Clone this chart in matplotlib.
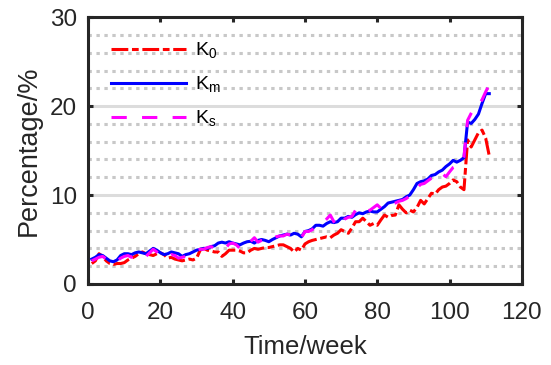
#! /usr/bin/env python3

# coding: utf-8

# # Percentage over time: K0, Km, Ks

import matplotlib.pyplot as plt
import numpy as np
from matplotlib.ticker import MultipleLocator

plt.rcParams['font.family'] = ['Liberation Sans', 'DejaVu Sans']
plt.rcParams['mathtext.fontset'] = 'custom'
plt.rcParams['mathtext.rm'] = 'Liberation Sans'
plt.rcParams['mathtext.it'] = 'Liberation Sans'

weeks = np.arange(1, 112)

k0 = [2.3, 2.6, 3.4, 3.1, 2.6, 2.3, 2.2, 2.3, 2.3, 2.4,
      2.7, 2.9, 3.1, 3.4, 3.6, 3.4, 3.3, 3.2, 3.4, 3.5,
      3.3, 2.9, 3.0, 2.8, 2.7, 2.6, 2.7, 2.8, 2.7, 2.9,
      3.8, 4.0, 3.8, 3.7, 3.6, 3.6, 3.1, 3.4, 3.8, 3.8,
      3.8, 3.7, 3.5, 3.5, 3.8, 4.0, 3.9, 4.0, 4.1, 4.1,
      4.2, 4.3, 4.4, 4.4, 4.2, 4.0, 3.6, 4.0, 3.8, 4.5,
      4.75, 4.9, 5.0, 5.1, 5.2, 5.3, 5.2, 5.5, 5.7, 6.1,
      5.9, 5.7, 6.3, 7.0, 7.0, 7.4, 7.0, 6.6, 6.8, 6.6,
      7.2, 7.75, 7.5, 7.7, 7.75, 8.9, 8.4, 8.0, 8.3, 8.1,
      8.6, 9.4, 9.0, 9.6, 10.2, 10.1, 10.6, 10.9, 11.0, 11.3,
      11.7, 11.5, 10.9, 10.6, 16.2, 15.4, 16.2, 17.0, 17.3, 16.4, 14.4]

km = [2.8, 3.0, 3.3, 3.2, 2.9, 2.6, 2.5, 2.7, 3.2, 3.4,
      3.4, 3.3, 3.5, 3.6, 3.5, 3.4, 3.7, 4.0, 3.8, 3.5,
      3.3, 3.4, 3.6, 3.5, 3.4, 3.1, 3.3, 3.4, 3.6, 3.8,
      3.9, 4.0, 4.0, 4.2, 4.3, 4.6, 4.7, 4.6, 4.75, 4.6,
      4.5, 4.4, 4.6, 4.75, 4.8, 4.6, 4.9, 5.0, 4.9, 4.75,
      5.0, 5.2, 5.4, 5.5, 5.6, 5.5, 5.7, 5.6, 5.3, 5.9,
      6.0, 6.2, 6.6, 6.6, 6.5, 6.8, 7.0, 6.9, 7.0, 7.4,
      7.4, 7.6, 7.5, 7.8, 8.0, 7.9, 8.1, 8.2, 8.1, 8.1,
      8.4, 8.7, 9.1, 9.2, 9.3, 9.4, 9.5, 9.8, 10.0, 10.6,
      11.3, 11.5, 11.6, 11.8, 12.2, 12.3, 12.6, 12.8, 13.2, 13.5,
      13.9, 13.7, 13.9, 14.2, 18.2, 18.05, 18.5, 19.1, 20.3, 21.4, 21.4]

ks = [2.6, 2.8, 3.0, 3.1, 2.8, 2.6, 2.4, 2.6, 2.9, 3.1,
      3.2, 3.0, 3.3, 3.4, 3.3, 3.1, 3.5, 3.9, 3.6, 3.3,
      3.0, 3.1, 3.3, 3.2, 2.9, 3.0, 3.1, 3.3, 3.5, 3.8,
      3.9, 3.9, 4.1, 4.2, 4.0, 4.0, 3.9, 4.0, 4.5, 4.6,
      4.4, 4.0, 3.9, 4.4, 4.8, 5.2, 4.7, 4.9, 5.0, 4.8,
      5.1, 5.3, 5.4, 5.4, 5.6, 5.5, 5.8, 5.4, 5.2, 5.9,
      5.9, 6.1, 6.4, 6.6, 6.9, 7.3, 7.75, 7.0, 6.4, 6.8,
      7.3, 7.5, 7.6, 8.3, 8.0, 7.9, 8.2, 8.3, 8.6, 8.9,
      8.5, 8.6, 8.7, 9.0, 9.1, 9.3, 9.4, 9.6, 9.9, 10.2,
      10.8, 11.2, 11.3, 11.6, 11.9, 12.1, 12.6, 12.4, 12.06, 12.6,
      13.1, 13.3, 13.4, 14.3, 18.4, 19.2, 19.9, 20.2, 20.7, 21.6, 22.4]

graphylabel = 'Percentage/%'
graphxlabel = 'Time/week'
textcolor = '#262626'

fig = plt.figure(figsize=(5.51, 3.65), dpi=100)
ax = fig.add_axes([0.16, 0.222, 0.787, 0.731])

ax.plot(weeks, k0, color='#ff0000', linewidth=2.2, dashes=(5.5, 1.2, 2.2, 1.2), label='K$_0$', zorder=3)
ax.plot(weeks, km, color='#0000ff', linewidth=2.2, linestyle='-', label='K$_\\mathrm{m}$', zorder=4)
ax.plot(weeks, ks, color='#ff00ff', linewidth=2.2, dashes=(5, 5), label='K$_\\mathrm{s}$', zorder=5)

ax.set_xlim(0, 120)
ax.set_ylim(0, 30)
ax.xaxis.set_major_locator(MultipleLocator(20))
ax.yaxis.set_major_locator(MultipleLocator(10))
ax.yaxis.set_minor_locator(MultipleLocator(2))

# horizontal grid only: solid at the major ticks, dotted at the minor ones
ax.set_axisbelow(True)
ax.yaxis.grid(True, which='major', color='#dcdcdc', linewidth=2.2, linestyle='-')
ax.yaxis.grid(True, which='minor', color='#c8c8c8', linewidth=2.2, dashes=(1.1, 1.5))

for side in ['left', 'right', 'top', 'bottom']:
    ax.spines[side].set_linewidth(2.2)
    ax.spines[side].set_color(textcolor)
ax.tick_params(which='major', direction='in', length=3.6, width=2.2, color=textcolor,
               top=True, right=True, labelsize=17.5, labelcolor=textcolor)
ax.tick_params(axis='x', which='major', pad=13)
ax.tick_params(axis='y', which='major', pad=8)
ax.tick_params(which='minor', length=0)

ax.set_ylabel(graphylabel, fontsize=19.5, color=textcolor, labelpad=6)
ax.set_xlabel(graphxlabel, fontsize=18.5, color=textcolor, labelpad=8)

ax.legend(loc='upper left', frameon=False, fontsize=14, handlelength=3.85,
          handletextpad=0.45, labelspacing=0.72, borderaxespad=0.8,
          bbox_to_anchor=(0.0, 1.0))

plt.savefig('out.png', dpi=100)
